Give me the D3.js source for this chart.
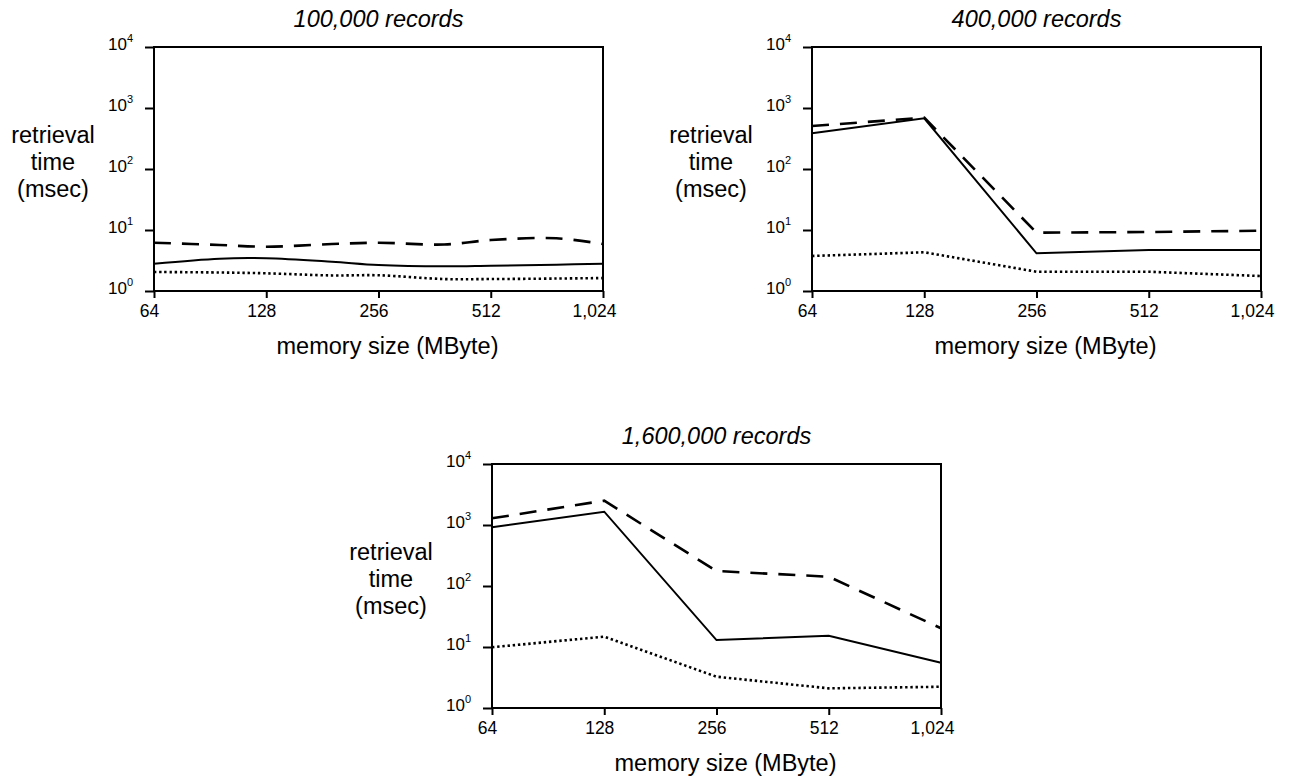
<!DOCTYPE html>
<html>
<head>
<meta charset="utf-8">
<script src="https://cdn.jsdelivr.net/npm/d3@7"></script>
<style>
  html, body { margin: 0; padding: 0; background: #fff; }
  svg { display: block; font-family: "Liberation Sans", Arial, Helvetica, sans-serif; }
</style>
</head>
<body>
<div id="chart"></div>
<script>
// --- Data ---
const memSizes = [64, 128, 256, 512, 1024];
const memSizesFine = [64, 96, 128, 192, 256, 384, 512, 768, 1024];
const xTickValues = [64, 128, 256, 512, 1024];
const xTickLabels = ["64", "128", "256", "512", "1,024"];
const yTickValues = [1, 10, 100, 1000, 10000];
const yTickExponents = ["0", "1", "2", "3", "4"];
const panelTitles = ["100,000 records", "400,000 records", "1,600,000 records"];
const yLabelLines = ["retrieval", "time", "(msec)"];
const xLabel = "memory size (MByte)";

// 100,000 records (read on memSizesFine)
const dashed100k = [6.19, 5.68, 5.32, 5.89, 6.19, 5.78, 6.85, 7.31, 5.89];
const solid100k  = [2.80, 3.39, 3.44, 3.02, 2.67, 2.54, 2.60, 2.70, 2.80];
const dotted100k = [2.05, 2.01, 1.95, 1.80, 1.81, 1.57, 1.57, 1.60, 1.63];

// 400,000 records
const dashed400k = [507, 693, 9.03, 9.27, 9.74];
const solid400k  = [385, 678, 4.15, 4.70, 4.70];
const dotted400k = [3.75, 4.31, 2.07, 2.07, 1.76];

// 1,600,000 records
const dashed1600k = [1288, 2502, 176, 142, 20.3];
const solid1600k  = [917, 1652, 13.0, 15.3, 5.53];
const dotted1600k = [9.89, 14.8, 3.26, 2.10, 2.23];

// --- Layout ---
const W = 1292, H = 781;
const plotW = 449, plotH = 244;

const panels = [
    { left: 154, top: 47, xs: memSizesFine, series: [dashed100k, solid100k, dotted100k], curve: d3.curveCatmullRom },
    { left: 812, top: 47, xs: memSizes, series: [dashed400k, solid400k, dotted400k], curve: d3.curveLinear },
    { left: 492, top: 464, xs: memSizes, series: [dashed1600k, solid1600k, dotted1600k], curve: d3.curveLinear }
];

// dashed / solid / dotted
const lineStyles = [
    { dash: "17,11", width: 2.6 },
    { dash: null, width: 2 },
    { dash: "2.4,2.8", width: 2.6 }
];

const svg = d3.select("#chart")
    .append("svg")
    .attr("width", W)
    .attr("height", H);

function drawPanel(p, idx) {
    const g = svg.append("g")
        .attr("transform", `translate(${p.left},${p.top})`);

    const x = d3.scaleLog().base(2).domain([64, 1024]).range([0, plotW]);
    const y = d3.scaleLog().domain([1, 10000]).range([plotH, 0]);

    // Axes
    const yAxis = g.append("g")
        .call(d3.axisLeft(y).tickValues(yTickValues).tickSize(9).tickSizeOuter(0).tickFormat(() => ""));
    yAxis.select(".domain").remove();
    yAxis.selectAll(".tick line").attr("stroke", "#000").attr("stroke-width", 2);

    const xAxis = g.append("g")
        .attr("transform", `translate(0,${plotH})`)
        .call(d3.axisBottom(x).tickValues(xTickValues).tickSize(7).tickSizeOuter(0)
            .tickFormat((d, i) => xTickLabels[i]));
    xAxis.select(".domain").remove();
    xAxis.selectAll(".tick line").attr("stroke", "#000").attr("stroke-width", 2);
    xAxis.selectAll(".tick text")
        .attr("fill", "#000")
        .attr("font-size", 17.5)
        .attr("y", 14)
        .attr("dx", (d, i) => i === xTickValues.length - 1 ? -9 : -5);

    // Power-of-ten labels
    const yLab = g.selectAll(".ylab")
        .data(yTickValues)
        .enter().append("text")
        .attr("class", "ylab")
        .attr("text-anchor", "end")
        .attr("x", -21)
        .attr("y", d => y(d) + 2.5);
    yLab.append("tspan").attr("font-size", 17).text("10");
    yLab.append("tspan").attr("font-size", 11).attr("dy", -8).text((d, i) => yTickExponents[i]);

    // Frame
    g.append("rect")
        .attr("width", plotW)
        .attr("height", plotH)
        .attr("fill", "none")
        .attr("stroke", "#000")
        .attr("stroke-width", 2);

    // Lines
    const line = d3.line()
        .x(d => x(d[0]))
        .y(d => y(d[1]))
        .curve(p.curve);

    p.series.forEach((vals, k) => {
        g.append("path")
            .datum(d3.zip(p.xs, vals))
            .attr("fill", "none")
            .attr("stroke", "#000")
            .attr("stroke-width", lineStyles[k].width)
            .attr("stroke-dasharray", lineStyles[k].dash)
            .attr("stroke-linejoin", "miter")
            .attr("d", line);
    });

    // Titles
    g.append("text")
        .attr("x", plotW / 2)
        .attr("y", -20)
        .attr("text-anchor", "middle")
        .attr("font-size", 23.5)
        .attr("font-style", "italic")
        .text(panelTitles[idx]);

    g.append("text")
        .attr("text-anchor", "middle")
        .attr("font-size", 23.5)
        .selectAll("tspan")
        .data(yLabelLines)
        .enter().append("tspan")
        .attr("x", -101)
        .attr("y", (d, i) => plotH / 2 - 26 + i * 27)
        .text(d => d);

    g.append("text")
        .attr("x", plotW / 2 + 9)
        .attr("y", plotH + 63)
        .attr("text-anchor", "middle")
        .attr("font-size", 23.5)
        .text(xLabel);
}

panels.forEach(drawPanel);
</script>
</body>
</html>
